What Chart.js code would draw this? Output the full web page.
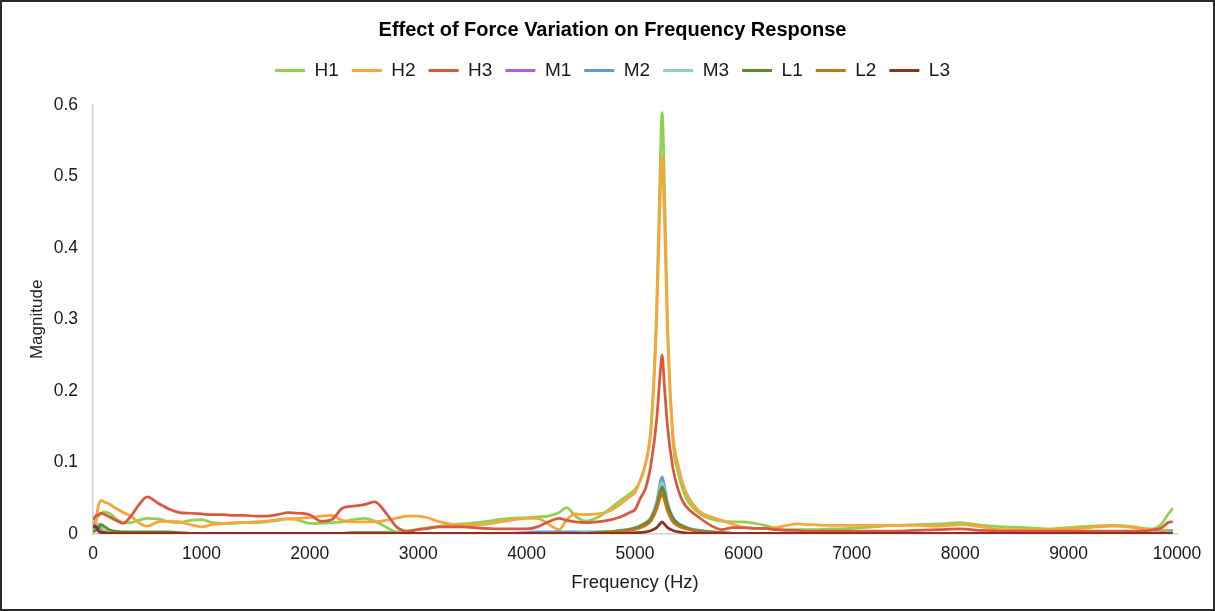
<!DOCTYPE html>
<html>
<head>
<meta charset="utf-8">
<script src="https://cdn.jsdelivr.net/npm/chart.js@4/dist/chart.umd.min.js"></script>
<style>
html,body{margin:0;padding:0;background:#fff;}
#wrap{width:1215px;height:611px;position:relative;}
</style>
</head>
<body>
<div id="wrap"><canvas id="c" width="1215" height="611"></canvas></div>
<script>
const seriesNames = ['H1','H2','H3','M1','M2','M3','L1','L2','L3'];
const seriesColors = ['#92D050','#F9A53B','#D9583F','#B05FDD','#5E9BD3','#92D1B6','#5D8C2C','#C27516','#8E3024'];

const freq = [0,25,50,75,100,150,200,280,350,420,
  500,600,700,800,900,1000,1100,1200,1300,1400,
  1500,1600,1700,1800,1900,2000,2100,2200,2300,2400,
  2500,2600,2700,2800,2900,3000,3100,3200,3400,3600,
  3800,4000,4100,4200,4300,4370,4450,4550,4650,4750,
  4850,4950,5000,5050,5100,5150,5200,5230,5250,5270,
  5300,5350,5400,5450,5500,5600,5700,5800,5900,6000,
  6100,6200,6300,6400,6500,6600,6800,7000,7200,7400,
  7600,7800,8000,8200,8400,8600,8800,9000,9200,9400,
  9600,9750,9850,9920,9960];

const H1 = [0.012,0.020,0.025,0.029,0.031,0.029,0.023,0.016,0.016,0.019,
  0.022,0.021,0.017,0.016,0.019,0.020,0.016,0.015,0.015,0.016,
  0.016,0.017,0.019,0.021,0.019,0.015,0.015,0.016,0.017,0.020,
  0.022,0.018,0.010,0.003,0.004,0.007,0.009,0.011,0.014,0.017,
  0.021,0.023,0.024,0.025,0.030,0.037,0.025,0.018,0.023,0.033,
  0.045,0.056,0.062,0.075,0.100,0.155,0.320,0.500,0.589,0.500,
  0.300,0.130,0.085,0.058,0.043,0.028,0.021,0.018,0.017,0.017,
  0.015,0.012,0.008,0.006,0.006,0.006,0.007,0.008,0.010,0.012,
  0.013,0.014,0.016,0.012,0.010,0.009,0.007,0.009,0.011,0.012,
  0.010,0.007,0.013,0.028,0.036];

const H2 = [0.005,0.015,0.040,0.047,0.045,0.042,0.037,0.030,0.025,0.016,
  0.011,0.017,0.018,0.017,0.013,0.010,0.013,0.015,0.016,0.016,
  0.017,0.018,0.020,0.021,0.022,0.023,0.025,0.026,0.019,0.017,
  0.017,0.017,0.019,0.022,0.025,0.025,0.022,0.017,0.012,0.013,
  0.018,0.022,0.022,0.014,0.006,0.020,0.028,0.027,0.028,0.031,
  0.040,0.052,0.058,0.076,0.100,0.150,0.300,0.460,0.528,0.450,
  0.280,0.140,0.095,0.066,0.050,0.031,0.024,0.019,0.014,0.009,
  0.008,0.008,0.009,0.012,0.014,0.013,0.012,0.012,0.012,0.012,
  0.012,0.011,0.013,0.010,0.006,0.006,0.006,0.007,0.009,0.011,
  0.009,0.006,0.005,0.005,0.005];

const H3 = [0.020,0.025,0.027,0.029,0.028,0.024,0.020,0.015,0.025,0.040,
  0.052,0.043,0.035,0.030,0.029,0.028,0.027,0.027,0.026,0.026,
  0.025,0.025,0.027,0.030,0.029,0.027,0.018,0.020,0.036,0.039,
  0.041,0.045,0.030,0.010,0.004,0.006,0.008,0.010,0.010,0.008,
  0.007,0.007,0.010,0.017,0.022,0.019,0.017,0.016,0.017,0.019,
  0.023,0.030,0.034,0.050,0.065,0.100,0.160,0.220,0.250,0.210,
  0.150,0.092,0.061,0.043,0.034,0.022,0.012,0.006,0.009,0.009,
  0.008,0.008,0.006,0.005,0.005,0.004,0.004,0.004,0.004,0.004,
  0.005,0.006,0.007,0.005,0.004,0.004,0.004,0.004,0.004,0.004,
  0.004,0.005,0.008,0.016,0.017];

const M1 = [0.013,0.010,0.006,0.003,0.002,0.001,0.001,0.001,0.001,0.001,
  0.001,0.001,0.001,0.001,0.001,0.001,0.001,0.001,0.001,0.001,
  0.001,0.001,0.001,0.001,0.001,0.001,0.001,0.001,0.001,0.001,
  0.001,0.001,0.001,0.001,0.001,0.001,0.001,0.001,0.001,0.001,
  0.001,0.001,0.001,0.001,0.001,0.001,0.001,0.001,0.001,0.002,
  0.003,0.005,0.007,0.009,0.013,0.020,0.038,0.058,0.066,0.055,
  0.035,0.019,0.013,0.009,0.007,0.004,0.002,0.001,0.001,0.001,
  0.001,0.001,0.001,0.001,0.001,0.001,0.001,0.001,0.001,0.001,
  0.001,0.001,0.001,0.001,0.001,0.001,0.001,0.001,0.001,0.001,
  0.001,0.001,0.001,0.001,0.001];

const M2 = [0.008,0.011,0.012,0.007,0.004,0.002,0.001,0.001,0.001,0.001,
  0.001,0.001,0.001,0.001,0.001,0.001,0.001,0.001,0.001,0.001,
  0.001,0.001,0.001,0.001,0.001,0.001,0.001,0.001,0.001,0.001,
  0.001,0.001,0.001,0.001,0.001,0.001,0.001,0.001,0.001,0.001,
  0.001,0.002,0.003,0.003,0.003,0.003,0.003,0.003,0.003,0.003,
  0.005,0.007,0.009,0.012,0.016,0.024,0.045,0.070,0.080,0.068,
  0.043,0.023,0.015,0.011,0.008,0.005,0.003,0.002,0.001,0.001,
  0.001,0.001,0.001,0.001,0.001,0.001,0.001,0.001,0.001,0.001,
  0.001,0.001,0.001,0.001,0.001,0.001,0.001,0.001,0.001,0.001,
  0.001,0.001,0.002,0.003,0.005];

const M3 = [0.005,0.009,0.014,0.012,0.006,0.003,0.001,0.001,0.001,0.001,
  0.001,0.001,0.001,0.001,0.001,0.001,0.001,0.001,0.001,0.001,
  0.001,0.001,0.001,0.001,0.001,0.001,0.001,0.001,0.001,0.001,
  0.001,0.001,0.001,0.001,0.001,0.001,0.001,0.001,0.001,0.001,
  0.001,0.001,0.001,0.001,0.001,0.001,0.001,0.002,0.002,0.003,
  0.004,0.006,0.008,0.011,0.015,0.022,0.042,0.064,0.072,0.062,
  0.040,0.021,0.014,0.010,0.007,0.004,0.003,0.002,0.001,0.001,
  0.001,0.001,0.001,0.001,0.001,0.001,0.001,0.001,0.001,0.001,
  0.001,0.001,0.001,0.001,0.001,0.001,0.001,0.001,0.001,0.001,
  0.001,0.001,0.001,0.002,0.003];

const L1 = [0.003,0.005,0.009,0.013,0.011,0.006,0.004,0.003,0.003,0.003,
  0.003,0.003,0.003,0.002,0.001,0.001,0.001,0.001,0.001,0.001,
  0.001,0.001,0.001,0.001,0.001,0.001,0.001,0.001,0.001,0.002,
  0.002,0.002,0.002,0.001,0.001,0.001,0.001,0.001,0.001,0.001,
  0.001,0.001,0.001,0.001,0.001,0.001,0.001,0.001,0.002,0.003,
  0.004,0.006,0.008,0.011,0.015,0.022,0.040,0.058,0.066,0.058,
  0.040,0.022,0.014,0.010,0.007,0.004,0.003,0.002,0.001,0.001,
  0.001,0.001,0.001,0.001,0.001,0.001,0.001,0.001,0.001,0.001,
  0.001,0.001,0.001,0.001,0.001,0.001,0.001,0.001,0.001,0.001,
  0.001,0.001,0.001,0.001,0.001];

const L2 = [0.010,0.008,0.005,0.003,0.002,0.001,0.001,0.001,0.001,0.001,
  0.001,0.001,0.001,0.001,0.001,0.001,0.001,0.001,0.001,0.001,
  0.001,0.001,0.001,0.001,0.001,0.001,0.001,0.001,0.001,0.001,
  0.001,0.001,0.001,0.001,0.001,0.001,0.001,0.001,0.001,0.001,
  0.001,0.001,0.001,0.001,0.001,0.001,0.001,0.001,0.001,0.002,
  0.003,0.005,0.007,0.009,0.012,0.019,0.035,0.050,0.056,0.048,
  0.032,0.017,0.011,0.008,0.006,0.003,0.002,0.001,0.001,0.001,
  0.001,0.001,0.001,0.001,0.001,0.001,0.001,0.001,0.001,0.001,
  0.001,0.001,0.001,0.001,0.001,0.001,0.001,0.001,0.001,0.001,
  0.001,0.001,0.001,0.001,0.001];

const L3 = [0.010,0.011,0.004,0.002,0.002,0.001,0.001,0.001,0.001,0.001,
  0.001,0.001,0.001,0.001,0.001,0.001,0.001,0.001,0.001,0.001,
  0.001,0.001,0.001,0.001,0.001,0.001,0.001,0.001,0.001,0.001,
  0.001,0.001,0.001,0.001,0.001,0.001,0.001,0.001,0.001,0.001,
  0.001,0.001,0.001,0.001,0.001,0.001,0.001,0.001,0.001,0.001,
  0.001,0.001,0.002,0.002,0.003,0.005,0.009,0.014,0.017,0.014,
  0.009,0.005,0.003,0.002,0.001,0.001,0.001,0.001,0.001,0.001,
  0.001,0.001,0.001,0.001,0.001,0.001,0.001,0.001,0.001,0.001,
  0.001,0.001,0.001,0.001,0.001,0.001,0.001,0.001,0.001,0.001,
  0.001,0.001,0.001,0.001,0.001];

const seriesValues = [H1,H2,H3,M1,M2,M3,L1,L2,L3];

const xTicks = [0,1000,2000,3000,4000,5000,6000,7000,8000,9000,10000];
const yTicks = [0,0.1,0.2,0.3,0.4,0.5,0.6];

const FONT = "'Liberation Sans', Arial, sans-serif";

const datasets = seriesNames.map((name, i) => ({
  label: name,
  data: freq.map((f, k) => ({x: f, y: seriesValues[i][k]})),
  borderColor: seriesColors[i],
  backgroundColor: seriesColors[i],
  borderWidth: 2.75,
  pointRadius: 0,
  cubicInterpolationMode: 'monotone',
  fill: false,
  yAxisID: 'y',
  order: seriesNames.length - 1 - i
}));

const frame = {
  id: 'frame',
  beforeDraw(chart) {
    const ctx = chart.ctx;
    ctx.save();
    ctx.fillStyle = '#fff';
    ctx.fillRect(0, 0, chart.width, chart.height);
    ctx.restore();
  },
  afterDraw(chart) {
    const ctx = chart.ctx;
    ctx.save();
    ctx.strokeStyle = '#2b2b2b';
    ctx.lineWidth = 2;
    ctx.strokeRect(1, 1, chart.width - 2, chart.height - 2);
    ctx.restore();
  }
};

new Chart(document.getElementById('c'), {
  type: 'line',
  data: { datasets },
  plugins: [frame],
  options: {
    responsive: false,
    animation: false,
    devicePixelRatio: 1,
    layout: { padding: { left: 10, right: 0, top: 0, bottom: 0 } },
    plugins: {
      tooltip: { enabled: false },
      title: {
        display: true,
        text: 'Effect of Force Variation on Frequency Response',
        color: '#000',
        font: { family: FONT, size: 20, weight: 'bold' },
        padding: { top: 18, bottom: 6 }
      },
      subtitle: {
        display: true,
        text: '',
        weight: 500,
        font: { family: FONT, size: 1 },
        padding: { top: 13.5, bottom: 0 }
      },
      legend: {
        display: true,
        position: 'top',
        labels: {
          color: '#1a1a1a',
          font: { family: FONT, size: 19 },
          boxWidth: 30,
          boxHeight: 3,
          padding: 13,
          sort: (a, b) => a.datasetIndex - b.datasetIndex,
          generateLabels(chart) {
            const items = Chart.defaults.plugins.legend.labels.generateLabels(chart);
            items.forEach(it => { it.lineWidth = 0; it.fillStyle = seriesColors[it.datasetIndex]; });
            return items;
          }
        }
      }
    },
    scales: {
      x: {
        type: 'linear',
        min: 0,
        max: 10000,
        afterBuildTicks(scale) { scale.ticks = xTicks.map(v => ({value: v})); },
        afterFit(scale) { scale.height = 77; },
        grid: { display: false, drawTicks: false },
        border: { display: true, color: '#d0d0d0', width: 1.5 },
        ticks: { color: '#1a1a1a', font: { family: FONT, size: 17.5 }, padding: 10, maxRotation: 0, autoSkip: false,
          callback: v => String(v) },
        title: { display: true, text: 'Frequency (Hz)', color: '#1a1a1a', font: { family: FONT, size: 18.5 }, padding: { top: 4, bottom: 17 } }
      },
      y: {
        type: 'linear',
        position: 'left',
        min: 0,
        max: 0.6,
        afterBuildTicks(scale) { scale.ticks = yTicks.map(v => ({value: v})); },
        afterFit(scale) { scale.width = 83; },
        grid: { display: false, drawTicks: false },
        border: { display: true, color: '#d0d0d0', width: 1.5 },
        ticks: { color: '#1a1a1a', font: { family: FONT, size: 17.5 }, padding: 15,
          callback: v => String(v) },
        title: { display: true, text: 'Magnitude', color: '#1a1a1a', font: { family: FONT, size: 17 }, padding: { top: 17, bottom: 0 } }
      },
      yRight: {
        type: 'linear',
        position: 'right',
        display: true,
        afterFit(scale) { scale.width = 38; },
        grid: { display: false, drawTicks: false },
        border: { display: false },
        ticks: { display: false }
      }
    }
  }
});
</script>
</body>
</html>
